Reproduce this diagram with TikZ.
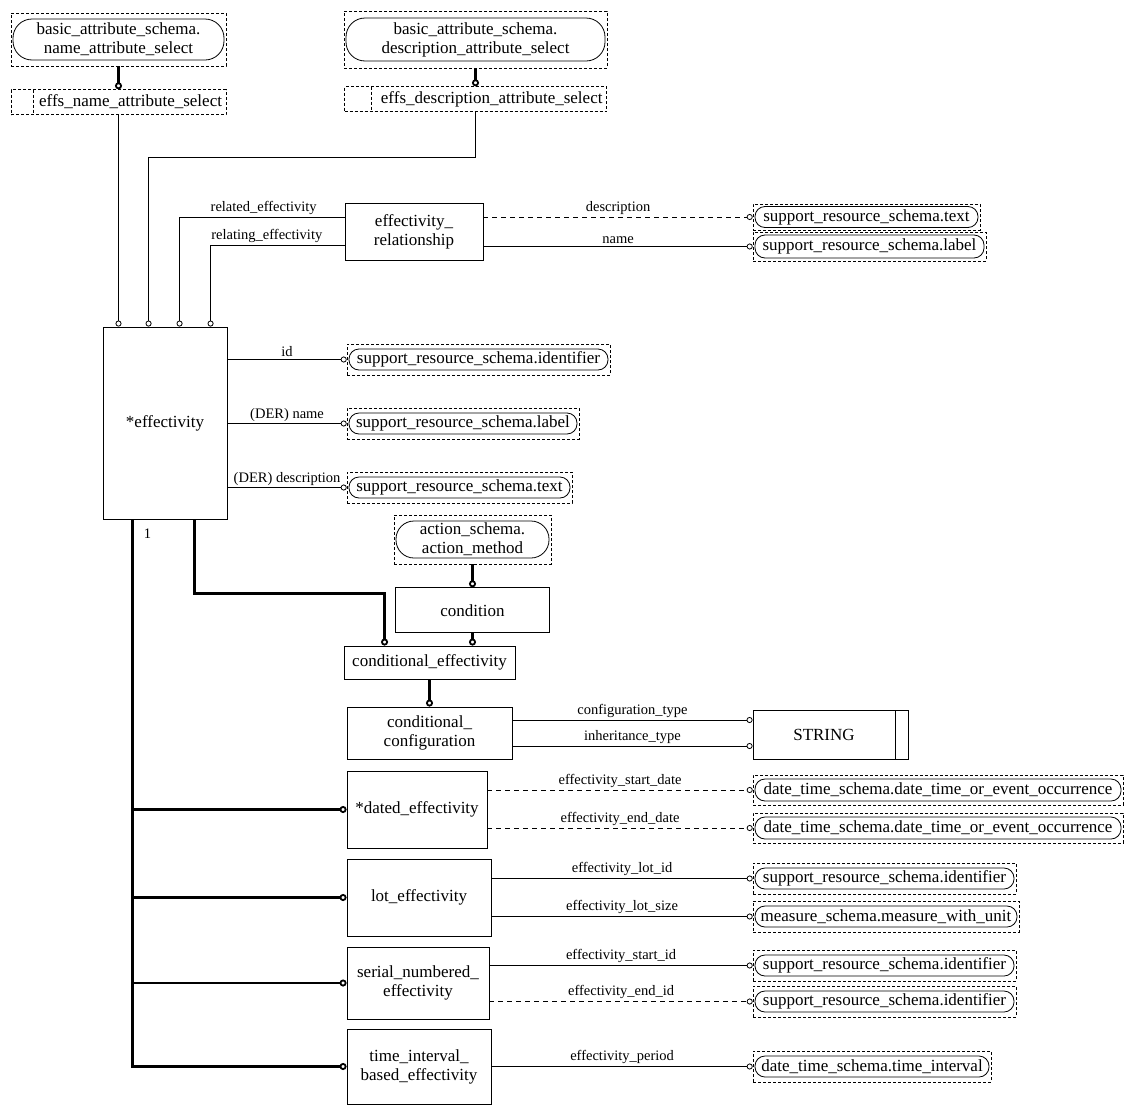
\documentclass[tikz,border=0pt]{standalone}
\usepackage{fontspec}
\setmainfont{Liberation Serif}
\usetikzlibrary{arrows.meta,positioning}
\newcommand\attrfont{\fontsize{14.5}{16}\selectfont}

\begin{document}
\begin{tikzpicture}[
  x=1pt, y=-1pt,
  font=\fontsize{17}{19}\selectfont,
  ent/.style={draw, line width=0.9pt, align=center, inner sep=2pt},
  extref/.style 2 args={draw, densely dashed, line width=0.6pt, align=center, inner sep=0pt,
    path picture={\draw[solid, line width=0.8pt, rounded corners=#1]
      ([shift={(2pt,-#2)}]path picture bounding box.north west) rectangle
      ([shift={(-2pt,#2)}]path picture bounding box.south east);}},
  sel/.style={draw, densely dashed, line width=0.6pt, align=right, inner xsep=4pt,
    inner ysep=2pt, minimum height=25pt,
    path picture={\draw[densely dashed, line width=0.6pt]
      ([xshift=#1]path picture bounding box.north west) --
      ([xshift=#1]path picture bounding box.south west);}},
  strbox/.style={draw, line width=0.9pt, minimum width=155pt, minimum height=49pt,
    path picture={\draw[line width=0.9pt]
      ([xshift=-13pt]path picture bounding box.north east) --
      ([xshift=-13pt]path picture bounding box.south east);}},
  attr/.style={line width=0.8pt, -{Circle[open, length=6pt, width=6pt, line width=0.8pt]}},
  optattr/.style={dash pattern=on 5pt off 4pt},
  subtype/.style={line width=2.2pt, -{Circle[open, length=7pt, width=7pt, line width=1.8pt]}},
  lbl/.style={above, font=\attrfont, inner sep=2pt}]
  \useasboundingbox (0,0) rectangle (1133,1114);

  % select types at the top
  \node (nameattr) [extref={19pt}{6pt}, minimum width=215pt, minimum height=53pt] at (118.5,39.5)
    {basic\_attribute\_schema.\\name\_attribute\_select};
  \node (effsname) [sel=22pt, text width=207pt, below=23pt of nameattr] {effs\_name\_attribute\_select};
  \node (descattr) [extref={19pt}{7pt}, minimum width=263pt, minimum height=57pt] at (475.5,39.5)
    {basic\_attribute\_schema.\\description\_attribute\_select};
  \node (effsdesc) [sel=27pt, text width=254pt, below=18pt of descattr] {effs\_description\_attribute\_select};

  % relationship
  \node (rel) [ent, minimum width=138pt, minimum height=57pt] at (414,231.5) {effectivity\_\\relationship};
  \node (srtext) [extref={10pt}{2.5pt}, minimum width=227pt, minimum height=26pt] at (866.5,217)
    {support\_resource\_schema.text};
  \node (srlabel) [extref={10pt}{3pt}, minimum width=233pt, minimum height=29pt] at (869.5,246.5)
    {support\_resource\_schema.label};

  % effectivity and its attributes
  \node (eff) [ent, minimum width=124pt, minimum height=192pt] at (165,423) {*effectivity};
  \node (idref) [extref={10pt}{5pt}, minimum width=263pt, minimum height=31pt] at (478.5,359.5)
    {support\_resource\_schema.identifier};
  \node (nameref) [extref={10pt}{5pt}, minimum width=232pt, minimum height=31pt] at (463,423.5)
    {support\_resource\_schema.label};
  \node (descref) [extref={10pt}{5pt}, minimum width=225pt, minimum height=31pt] at (459.5,487.5)
    {support\_resource\_schema.text};

  % conditions
  \node (action) [extref={18pt}{6pt}, minimum width=157pt, minimum height=49pt] at (472.5,539.5)
    {action\_schema.\\action\_method};
  \node (cond) [ent, minimum width=154pt, minimum height=45pt, below=23pt of action] {condition};
  \node (condeff) [ent, minimum width=171pt, minimum height=33pt] at (429.5,662.5) {conditional\_effectivity};
  \node (conf) [ent, minimum width=165pt, minimum height=52pt] at (429.5,733) {conditional\_\\configuration};
  \node (string) [strbox] at (830.5,734.5) {STRING\hspace*{13pt}};

  % subtypes
  \node (dated) [ent, minimum width=140pt, minimum height=77pt] at (417,809.5) {*dated\_effectivity};
  \node (dtstart) [extref={10pt}{4pt}, minimum width=370pt, minimum height=30pt] at (938,790)
    {date\_time\_schema.date\_time\_or\_event\_occurrence};
  \node (dtend) [extref={10pt}{4pt}, minimum width=370pt, minimum height=30pt] at (938,828)
    {date\_time\_schema.date\_time\_or\_event\_occurrence};
  \node (lot) [ent, minimum width=144pt, minimum height=77pt] at (419,897.5) {lot\_effectivity};
  \node (lotid) [extref={10pt}{5pt}, minimum width=263pt, minimum height=31pt] at (884.5,878.5)
    {support\_resource\_schema.identifier};
  \node (lotsize) [extref={10pt}{5pt}, minimum width=266pt, minimum height=31pt] at (886,916.5)
    {measure\_schema.measure\_with\_unit};
  \node (serial) [ent, minimum width=142pt, minimum height=72pt] at (418,983) {serial\_numbered\_\\effectivity};
  \node (startid) [extref={10pt}{5pt}, minimum width=263pt, minimum height=31pt] at (884.5,965.5)
    {support\_resource\_schema.identifier};
  \node (endid) [extref={10pt}{5pt}, minimum width=263pt, minimum height=31pt] at (884.5,1001.5)
    {support\_resource\_schema.identifier};
  \node (timeint) [ent, minimum width=144pt, minimum height=75pt] at (419,1066.5) {time\_interval\_\\based\_effectivity};
  \node (period) [extref={10pt}{5pt}, minimum width=238pt, minimum height=31pt] at (872,1066.5)
    {date\_time\_schema.time\_interval};

  % connectors
  \draw[subtype] (nameattr) -- (effsname);
  \draw[attr] (effsname) -- (effsname.south |- eff.north);
  \draw[subtype] (descattr) -- (effsdesc);
  \draw[attr] (effsdesc.south) -- ++(0,45) -| ([xshift=46pt]eff.north west);
  \draw[attr] ([yshift=14pt]rel.west) -| node[lbl, pos=0.245] {related\_effectivity} ([xshift=77pt]eff.north west);
  \draw[attr] ([yshift=-13.5pt]rel.west) -| node[lbl, pos=0.29] {relating\_effectivity} ([xshift=108pt]eff.north west);
  \draw[attr, optattr] (rel.east |- srtext) -- node[lbl] {description} (srtext);
  \draw[attr] (rel.east |- srlabel) -- node[lbl] {name} (srlabel);
  \draw[attr] (eff.east |- idref) -- node[lbl] {id} (idref);
  \draw[attr] (eff.east |- nameref) -- node[lbl] {(DER) name} (nameref);
  \draw[attr] (eff.east |- descref) -- node[lbl] {(DER) description} (descref);

  \draw[subtype] ([xshift=30pt]eff.south west) node[below right, font=\attrfont, xshift=7pt, yshift=-5pt] {1} |- (dated.west);
  \draw[subtype] ([xshift=30pt]eff.south west) |- (lot.west);
  \draw[subtype] ([xshift=30pt]eff.south west) |- (serial.west);
  \draw[subtype] ([xshift=30pt]eff.south west) |- (timeint.west);
  \draw[subtype] ([xshift=92pt]eff.south west) -- ++(0,74) -| ([xshift=41pt]condeff.north west);
  \draw[subtype] (action) -- (cond);
  \draw[subtype] (cond.south) -- (cond.south |- condeff.north);
  \draw[subtype] (condeff) -- (conf);

  \coordinate (ct) at ([yshift=13pt]conf.east);
  \coordinate (it) at ([yshift=-13pt]conf.east);
  \draw[attr] (ct) -- node[lbl] {configuration\_type} (ct -| string.west);
  \draw[attr] (it) -- node[lbl] {inheritance\_type} (it -| string.west);

  \draw[attr, optattr] (dated.east |- dtstart) -- node[lbl] {effectivity\_start\_date} (dtstart);
  \draw[attr, optattr] (dated.east |- dtend) -- node[lbl] {effectivity\_end\_date} (dtend);
  \draw[attr] (lot.east |- lotid) -- node[lbl] {effectivity\_lot\_id} (lotid);
  \draw[attr] (lot.east |- lotsize) -- node[lbl] {effectivity\_lot\_size} (lotsize);
  \draw[attr] (serial.east |- startid) -- node[lbl] {effectivity\_start\_id} (startid);
  \draw[attr, optattr] (serial.east |- endid) -- node[lbl] {effectivity\_end\_id} (endid);
  \draw[attr] (timeint.east |- period) -- node[lbl] {effectivity\_period} (period);
\end{tikzpicture}
\end{document}
